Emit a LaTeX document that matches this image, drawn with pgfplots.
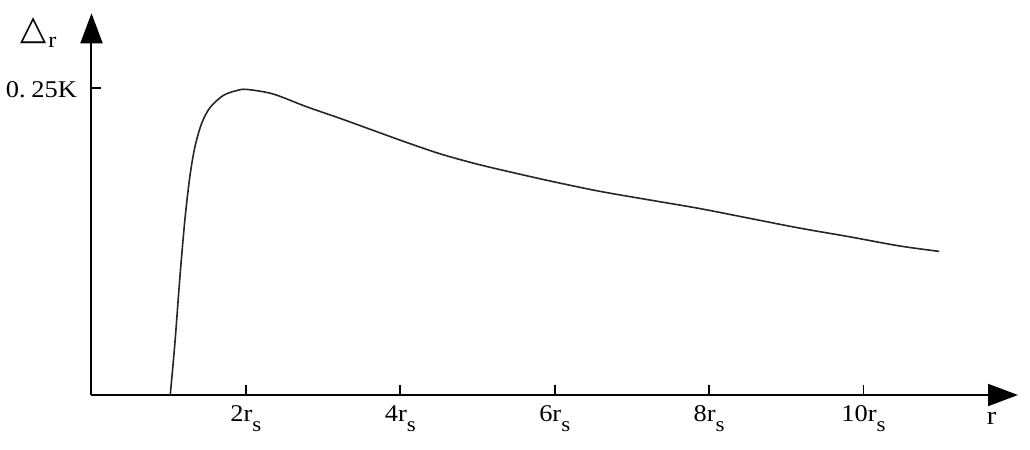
\documentclass[border=0pt]{standalone}
\usepackage{pgfplots}
\pgfplotsset{compat=1.18}
\usepackage{fontspec}
\setmainfont{Liberation Serif}[FakeStretch=1.1]
\newfontfamily\symfont{DejaVu Sans}
\usetikzlibrary{arrows.meta}
\newcommand{\rs}[1]{#1r\raisebox{-5pt}{\fontsize{10.5}{12}\selectfont s}}
\begin{document}
\begin{tikzpicture}
\begin{axis}[
  scale only axis, width=463.25pt, height=190.85pt,
  xmin=0, xmax=12, ymin=0, ymax=0.311,
  axis lines=left,
  axis line style={line width=1pt, -{Triangle[length=15pt,width=11pt]}},
  tick align=inside, major tick length=5pt, tick style={line width=0.9pt, black},
  xtick={2,4,6,8,10}, xticklabels={\rs{2},\rs{4},\rs{6},\rs{8},\rs{10}},
  ytick={0.25}, yticklabels={0.\kern2.8pt25K},
  xticklabel style={font=\fontsize{12}{14}\selectfont, anchor=base, yshift=-13pt},
  yticklabel style={font=\fontsize{12}{14}\selectfont, anchor=east, xshift=-3.8pt, yshift=-1pt},
  clip=false,
]
\addplot[smooth, line width=0.8pt, black!85] coordinates {
(1.02,0) (1.08,0.042) (1.145,0.096) (1.21,0.143) (1.274,0.178) (1.339,0.202)
(1.425,0.221) (1.533,0.234) (1.705,0.244) (1.878,0.248) (2.008,0.249)
(2.35,0.2453) (2.78,0.235) (3.215,0.2255) (3.645,0.2157) (4.08,0.2058)
(4.51,0.1966) (4.94,0.189) (5.28,0.1838) (5.93,0.1745) (6.58,0.166) (7.22,0.159)
(7.87,0.152) (8.52,0.144) (9.17,0.136) (9.81,0.129) (10.46,0.1215) (10.98,0.117)
};
\coordinate (O) at (axis cs:0,0);
\node[font=\fontsize{13}{15}\selectfont, anchor=base] at (axis cs:11.66,0) [yshift=-14.5pt] {r};
\node[anchor=base west, inner sep=0pt] at (axis cs:0,0.2895) [xshift=-35.8pt] {{\symfont\fontsize{17}{19}\selectfont △}\kern1pt\raisebox{-4pt}{\fontsize{11}{12}\selectfont r}};
\end{axis}
\pgfresetboundingbox
\path ([xshift=-45.75pt,yshift=-27.5pt]O) rectangle ++(515pt,225pt);
\end{tikzpicture}
\end{document}
